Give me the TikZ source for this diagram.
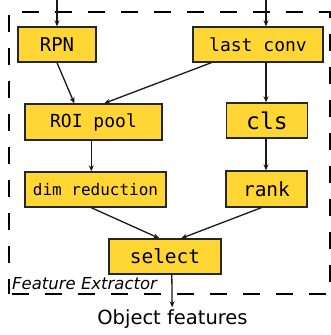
\documentclass[tikz,border=0pt]{standalone}
\usepackage{fontspec}
\setmainfont{DejaVu Sans}
\newfontfamily\monofont{DejaVu Sans Mono}
\usetikzlibrary{arrows.meta,calc}
\definecolor{boxfill}{RGB}{255,214,51}
\tikzset{
  box/.style={draw=black!85,fill=boxfill,line width=1.4pt,inner sep=0pt,anchor=center,font=\monofont},
  arr/.style={draw=black!90,line width=1.3pt,-{Stealth[length=6pt,width=5pt]}},
  frame/.style={draw=black,line width=2pt,dash pattern=on 17pt off 16pt}
}
\begin{document}
\begin{tikzpicture}[x=1pt,y=-1pt]
\useasboundingbox (0,0) rectangle (331,335);
\draw[frame,dash phase=2pt] (9,294) -- (9,12) -- (330,12) -- (330,294) -- cycle;
\node[box,minimum width=78pt,minimum height=35pt,font=\monofont\fontsize{19}{21}\selectfont] (rpn) at (57,44.5) {RPN};
\node[box,minimum width=130pt,minimum height=35pt,font=\monofont\fontsize{18}{20}\selectfont] (last) at (258,44.5) {last conv};
\node[box,minimum width=137pt,minimum height=36pt,font=\monofont\fontsize{18}{20}\selectfont] (roi) at (93.5,122) {ROI pool};
\node[box,minimum width=81pt,minimum height=35pt,font=\monofont\fontsize{23}{25}\selectfont] (cls) at (267,120.5) {cls};
\node[box,minimum width=141pt,minimum height=35pt,font=\monofont\fontsize{16}{18}\selectfont] (dim) at (95.5,189.5) {dim reduction};
\node[box,minimum width=81pt,minimum height=36pt,font=\monofont\fontsize{19.5}{21}\selectfont] (rank) at (266.5,189) {rank};
\node[box,minimum width=112pt,minimum height=35pt,font=\monofont\fontsize{19.5}{21}\selectfont] (select) at (165,256.5) {select};
\node[anchor=base west,inner sep=0pt,font=\fontsize{16.5}{18}\selectfont\itshape] (fe) at (12,289) {Feature Extractor};
\node[anchor=center,inner sep=0pt,font=\fontsize{19.5}{21}\selectfont] (obj) at (172.5,319) {Object features};
\coordinate (inrpn) at (57,0);
\coordinate (inlast) at (266,0);
\draw[arr] (inrpn) -- (rpn.north);
\draw[arr] (inlast) -- (inlast |- last.north);
\draw[arr] (rpn.south) -- ($(roi.north west)+(50,0)$);
\draw[arr] ($(last.south west)+(19,0)$) -- ($(roi.north west)+(80,0)$);
\draw[arr] (inlast |- last.south) -- (inlast |- cls.north);
\draw[arr] ($(roi.south west)+(67,0)$) -- ($(dim.north west)+(67,0)$);
\draw[arr] (inlast |- cls.south) -- (inlast |- rank.north);
\draw[arr] ($(dim.south west)+(67,0)$) -- ($(select.north west)+(51,0)$);
\draw[arr] ($(rank.south west)+(36,0)$) -- ($(select.north west)+(73,0)$);
\draw[arr] ($(select.south west)+(63.5,0)$) -- ($(obj.north west)+(75,-2)$);
\end{tikzpicture}
\end{document}
